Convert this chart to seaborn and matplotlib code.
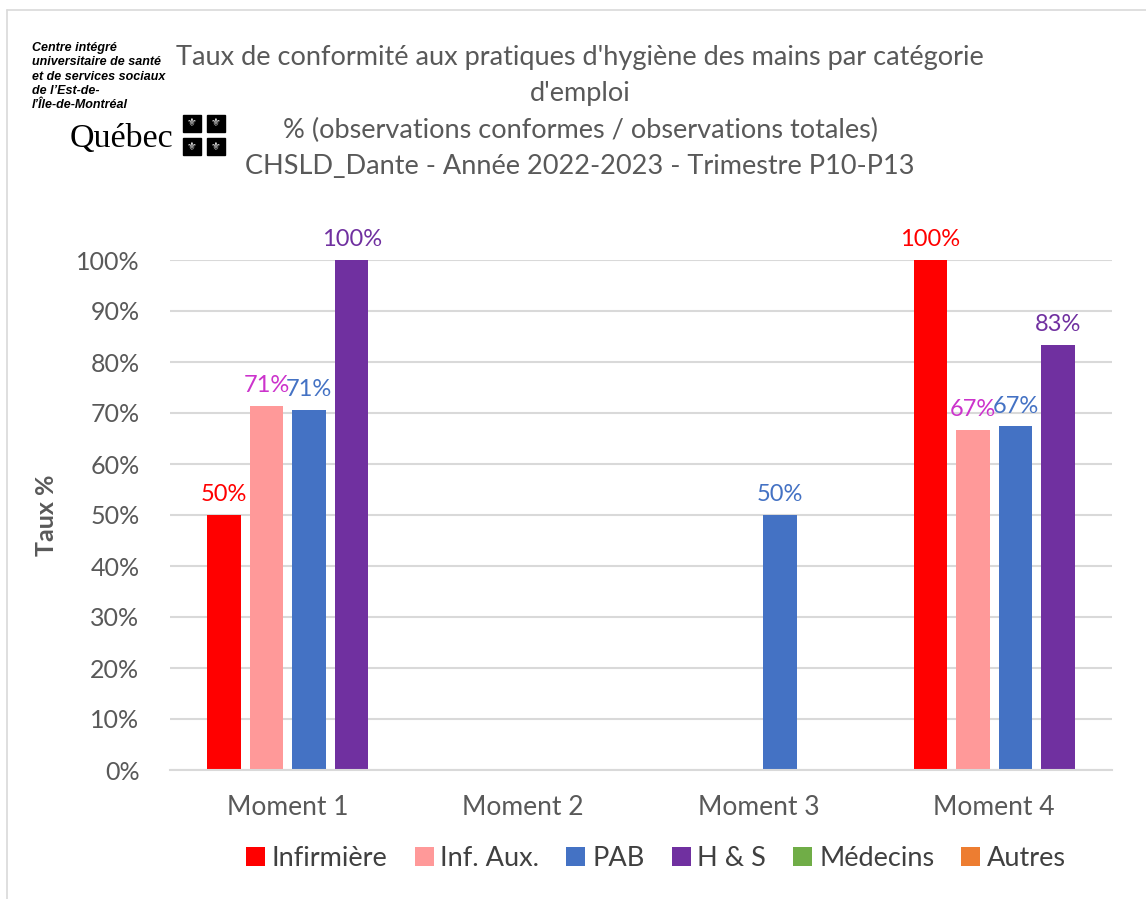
import numpy as np
import pandas as pd
import matplotlib
matplotlib.use("Agg")
import matplotlib.pyplot as plt
from matplotlib.patches import Patch, Rectangle
from matplotlib.lines import Line2D
import seaborn as sns

# --- Data ---
moments = ["Moment 1", "Moment 2", "Moment 3", "Moment 4"]
infirmiere = [50.0, np.nan, np.nan, 100.0]
inf_aux = [71.4, np.nan, np.nan, 66.7]
pab = [70.6, np.nan, 50.0, 67.4]
h_s = [100.0, np.nan, np.nan, 83.3]

series_names = ["Infirmière", "Inf. Aux.", "PAB", "H & S", "Médecins", "Autres"]
bar_colors = ["#FF0000", "#FF9999", "#4472C4", "#7030A0", "#70AD47", "#ED7D31"]
label_colors = ["#FF0000", "#CC33CC", "#4472C4", "#7030A0"]
y_ticks = [0, 10, 20, 30, 40, 50, 60, 70, 80, 90, 100]

title_lines = [
    "Taux de conformité aux pratiques d'hygiène des mains par catégorie",
    "d'emploi",
    "% (observations conformes / observations totales)",
    "CHSLD_Dante - Année 2022-2023 - Trimestre P10-P13",
]
logo_lines = [
    "Centre intégré",
    "universitaire de santé",
    "et de services sociaux",
    "de l\u2019Est-de-",
    "l\u2019Île-de-Montréal",
]

values = [infirmiere, inf_aux, pab, h_s]
df = pd.DataFrame({
    "moment": moments * 4,
    "serie": np.repeat(series_names[:4], len(moments)),
    "taux": np.concatenate(values),
})

sns.set_theme(style="white")
plt.rcParams["font.family"] = ["Lato", "DejaVu Sans"]

GRAY = "#595959"
W, H = 1146, 899
fig = plt.figure(figsize=(W / 100, H / 100), dpi=100)
ax = fig.add_axes([170 / W, 1 - 770 / H, (1112 - 170) / W, (770 - 260) / H])

sns.barplot(data=df, x="moment", y="taux", hue="serie", order=moments,
            hue_order=series_names[:4], palette=bar_colors[:4], saturation=1,
            errorbar=None, width=0.723, gap=0.22, linewidth=0, ax=ax, legend=False)

# data labels
for cont, col in zip(ax.containers, label_colors):
    vals = [b.get_height() for b in cont]
    labs = ["" if np.isnan(v) else f"{v:.0f}%" for v in vals]
    ax.bar_label(cont, labels=labs, color=col, padding=7, fontsize=17)

ax.set_ylim(0, 100)
ax.set_yticks(y_ticks)
ax.set_yticklabels([f"{t}%" for t in y_ticks])
ax.yaxis.grid(True, color="#D9D9D9", linewidth=1.5)
ax.set_axisbelow(True)
for s in ["top", "right", "left"]:
    ax.spines[s].set_visible(False)
ax.spines["bottom"].set_color("#D9D9D9")
ax.spines["bottom"].set_linewidth(1.5)
ax.tick_params(axis="y", length=0, labelsize=18, labelcolor=GRAY, pad=22)
ax.tick_params(axis="x", length=0, labelsize=19, labelcolor=GRAY, pad=18)
ax.set_xlabel("")
ax.set_ylabel("")
fig.text(46 / W, 1 - 515 / H, "Taux %", rotation=90, ha="center", va="center",
         fontsize=18, fontweight="bold", color=GRAY)

# title
for i, line in enumerate(title_lines):
    fig.text(580 / W, 1 - (58 + i * 36) / H, line, ha="center", va="center",
             fontsize=19.5, color=GRAY)

# logo
for i, line in enumerate(logo_lines):
    fig.text(32 / W, 1 - (48 + i * 14.3) / H, line, ha="left", va="center",
             fontsize=9, fontweight="bold", fontstyle="italic", color="black",
             family=["Liberation Sans Narrow", "Liberation Sans", "DejaVu Sans"])
fig.text(70 / W, 1 - 139 / H, "Québec", ha="left", va="center", fontsize=24.5,
         color="black", family=["Liberation Serif", "DejaVu Serif"])
for (x0, y0) in [(183, 115), (207, 115), (183, 138), (207, 138)]:
    fig.patches.append(Rectangle((x0 / W, 1 - (y0 + 17) / H), 18 / W, 17 / H,
                                 transform=fig.transFigure, color="black"))
    fig.text((x0 + 9) / W, 1 - (y0 + 8.5) / H, "\u269c", ha="center", va="center",
             fontsize=8, color="white", family=["DejaVu Sans"])

# frame of the chart area
fig.add_artist(Line2D([7 / W, 7 / W], [0, 1 - 10 / H], transform=fig.transFigure,
                      color="#D9D9D9", linewidth=1.2))
fig.add_artist(Line2D([7 / W, 1], [1 - 10 / H, 1 - 10 / H], transform=fig.transFigure,
                      color="#D9D9D9", linewidth=1.2))

# legend with all six categories
handles = [Patch(facecolor=c, edgecolor="none") for c in bar_colors]
fig.legend(handles, series_names, loc="center", bbox_to_anchor=(656 / W, 1 - 858 / H),
           ncol=6, frameon=False, fontsize=19.5, handlelength=0.7, handleheight=0.7,
           handletextpad=0.25, columnspacing=1.0, labelcolor="#404040")

fig.savefig("out.png", dpi=100)
